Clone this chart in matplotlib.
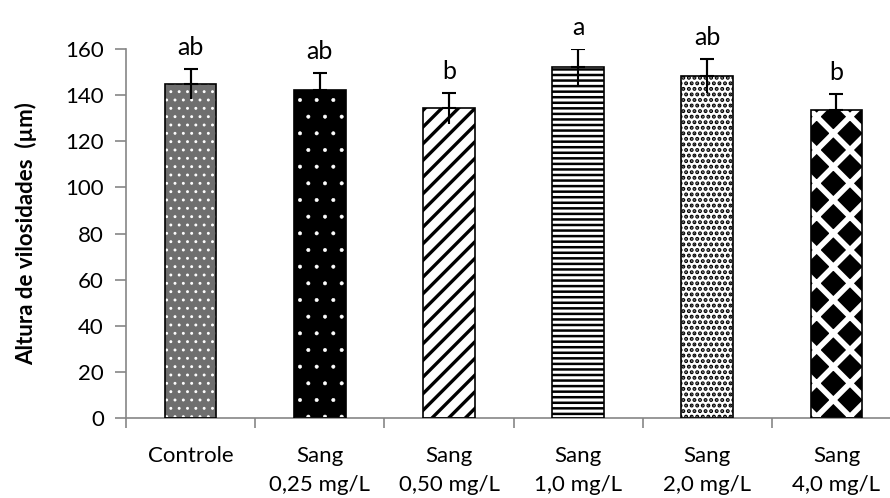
import matplotlib
matplotlib.use("Agg")
import matplotlib.pyplot as plt
import numpy as np

plt.rcParams['font.family'] = ['Lato', 'DejaVu Sans']

categorias = ['Controle', 'Sang\n0,25 mg/L', 'Sang\n0,50 mg/L',
              'Sang\n1,0 mg/L', 'Sang\n2,0 mg/L', 'Sang\n4,0 mg/L']
altura = [144.8, 142.2, 134.3, 152.3, 148.3, 133.6]
erro = [6.5, 7.5, 6.8, 7.7, 7.4, 6.9]
letras = ['ab', 'ab', 'b', 'a', 'ab', 'b']

# fill, hatch, hatch colour, hatch width -> imitation of the Excel patterns
estilos = [
    ('#6f6f6f', '..', 'white', 0.9),
    ('black', '.', 'white', 0.4),
    ('white', '//', 'black', 2.4),
    ('white', '---', 'black', 1.8),
    ('white', '...', 'black', 2.0),
    ('black', 'x', 'white', 4.0),
]

cinza = '#868686'

fig = plt.figure(figsize=(8.9, 4.98), dpi=100)
ax = fig.add_axes([0.1416, 0.1606, 0.8708, 0.741])

x = np.arange(len(categorias))
largura = 0.4

for i, (fc, h, hc, hw) in enumerate(estilos):
    with plt.rc_context({'hatch.linewidth': hw}):
        b = ax.bar(x[i], altura[i], largura, color=fc, hatch=h, edgecolor=hc,
                   linewidth=0, zorder=2)
    for p in b:
        if hasattr(p, 'set_hatch_linewidth'):
            p.set_hatch_linewidth(hw)
ax.bar(x, altura, largura, fill=False, edgecolor='black', linewidth=1.2, zorder=3)

ax.errorbar(x, altura, yerr=[erro, erro], fmt='none', ecolor='black',
            elinewidth=1.5, capsize=0, zorder=4)
ax.errorbar(x, altura, yerr=[np.zeros(len(erro)), erro], fmt='none',
            ecolor='black', elinewidth=1.5, capsize=5, capthick=1.5, zorder=4)

for xi, yi, ei, txt in zip(x, altura, erro, letras):
    ax.text(xi, yi + ei + 6, txt, ha='center', va='baseline', fontsize=18)

ax.set_xlim(-0.5, 5.5)
ax.set_ylim(0, 160)
ax.set_yticks(np.arange(0, 161, 20))
ax.set_xticks(x)
ax.set_xticklabels(categorias, fontsize=16, linespacing=1.6)
ax.set_xticks(np.arange(-0.5, 6, 1), minor=True)

ax.tick_params(axis='x', which='major', length=0, pad=20)
ax.tick_params(axis='x', which='minor', length=7, color=cinza, width=1.2, direction='out')
ax.tick_params(axis='y', length=8, color=cinza, width=1.2, pad=8, labelsize=16)

for s in ['top', 'right']:
    ax.spines[s].set_visible(False)
for s in ['left', 'bottom']:
    ax.spines[s].set_color(cinza)
    ax.spines[s].set_linewidth(1.2)

ax.set_ylabel('Altura de vilosidades  (µm)', fontsize=16, fontweight='bold', labelpad=20)

fig.savefig('out.png', dpi=100)
